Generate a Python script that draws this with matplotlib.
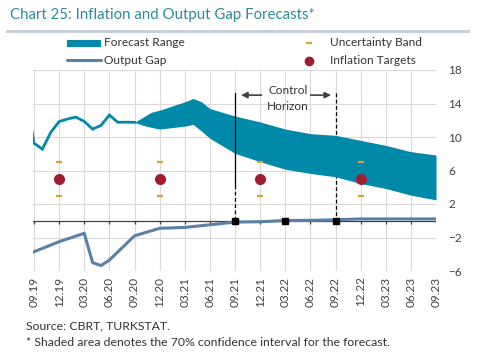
import numpy as np
import matplotlib
matplotlib.use("Agg")
import matplotlib.pyplot as plt

plt.rcParams["font.family"] = ["Lato", "DejaVu Sans"]

# ── DATA ──────────────────────────────────────────────────────────────────────
# x positions are months counted from 09.19 (= 0)
tick_labels = ["09.19", "12.19", "03.20", "06.20", "09.20", "12.20", "03.21",
               "06.21", "09.21", "12.21", "03.22", "06.22", "09.22", "12.22",
               "03.23", "06.23", "09.23"]

infl_months = [-1, 0, 1, 2, 3, 4, 5, 6, 7, 8, 9, 10, 11, 12]
infl_values = [15.01, 9.26, 8.55, 10.56, 11.84, 12.15, 12.37, 11.86, 10.94,
               11.39, 12.62, 11.76, 11.77, 11.75]

band_months = [12, 13, 14, 15, 18, 19, 20, 21, 24, 27, 30, 33, 36, 39, 42, 45, 48]
band_upper = [11.75, 12.35, 12.95, 13.2, 14.2, 14.6, 14.2, 13.4, 12.5, 11.8,
              10.95, 10.4, 10.2, 9.6, 9.0, 8.25, 7.85]
band_lower = [11.75, 11.4, 11.15, 10.95, 11.3, 11.5, 10.7, 9.85, 8.05, 7.05,
              6.15, 5.65, 5.25, 4.45, 3.85, 3.05, 2.5]

gap_months = [0, 3, 6, 7, 8, 9, 12, 15, 18, 21, 24, 27, 30, 33, 36, 39, 42, 45, 48]
gap_values = [-3.7, -2.5, -1.5, -5.0, -5.35, -4.7, -1.8, -0.9, -0.8, -0.48,
              -0.16, -0.12, 0.03, 0.05, 0.12, 0.22, 0.22, 0.22, 0.22]

target_months = [3, 15, 27, 39]
target_values = [5, 5, 5, 5]
unc_upper = [7, 7, 7, 7]
unc_lower = [3, 3, 3, 3]

horizon_marks = [24, 30, 36]

TEAL = "#0089A8"
GAP = "#5B80A8"
RED = "#9E1F32"
ORANGE = "#D9A040"
GRID = "#D9D9D9"
TXT = "#333333"

# ── FIGURE ────────────────────────────────────────────────────────────────────
fig = plt.figure(figsize=(5.04, 3.62), dpi=100)
ax = fig.add_axes([33 / 504, 1 - 271 / 362, 403 / 504, 201 / 362])

ax.set_xlim(-0.12, 48)
ax.set_ylim(-6, 18)

quarters = np.arange(0, 49, 3)
for q in quarters:
    ax.axvline(q, color=GRID, lw=0.8, zorder=0)
for yv in [18, 14, 10, 6, 2, -2, -6]:
    ax.axhline(yv, color=GRID, lw=0.8, zorder=0)

# zero axis with small ticks
ax.axhline(0, color="#404040", lw=0.9, zorder=3)
ax.vlines(quarters, -0.4, 0, color="#404040", lw=0.9, zorder=3)

# forecast band and actual inflation
ax.fill_between(band_months, band_lower, band_upper, color=TEAL, lw=0, zorder=2)
ax.plot(infl_months, infl_values, color=TEAL, lw=2.0, zorder=4,
        solid_joinstyle="miter")

# output gap
ax.plot(gap_months, gap_values, color=GAP, lw=2.2, zorder=4)
ax.plot(horizon_marks, [0] * len(horizon_marks), ls="none", marker="s",
        ms=4.5, color="black", zorder=6)

# control horizon lines
ax.plot([24, 24], [15.25, 4.3], color="black", lw=0.9, zorder=5)
ax.plot([24, 24], [4.3, 0], color="black", lw=0.9, ls=(0, (3, 2)), zorder=5)
ax.plot([36, 36], [15.25, 0], color="black", lw=0.9, ls=(0, (3, 2)), zorder=1)

ax.annotate("", xy=(24.4, 15.0), xytext=(27.5, 15.0),
            arrowprops=dict(arrowstyle="-|>", color="#404040", lw=1.2,
                            mutation_scale=9), zorder=6)
ax.annotate("", xy=(35.8, 15.0), xytext=(32.7, 15.0),
            arrowprops=dict(arrowstyle="-|>", color="#404040", lw=1.2,
                            mutation_scale=9), zorder=6)
ax.text(30.3, 15.55, "Control", ha="center", va="center", fontsize=8.5, color=TXT)
ax.text(30.3, 13.7, "Horizon", ha="center", va="center", fontsize=8.5, color=TXT)

# targets and uncertainty band
ax.plot(target_months, unc_upper, ls="none", marker="_", ms=5, mew=1.6,
        color=ORANGE, zorder=5)
ax.plot(target_months, unc_lower, ls="none", marker="_", ms=5, mew=1.6,
        color=ORANGE, zorder=5)
ax.plot(target_months, target_values, ls="none", marker="o", ms=7,
        color=RED, zorder=5)

# axes styling
for s in ax.spines.values():
    s.set_visible(False)
ax.set_xticks(quarters)
ax.set_xticklabels(tick_labels, rotation=90, fontsize=8.5, color="#404040")
ax.tick_params(axis="x", length=0, pad=4)
ax.set_yticks([18, 14, 10, 6, 2, -2, -6])
ax.yaxis.tick_right()
ax.tick_params(axis="y", length=0, pad=9, labelsize=8.5, labelcolor="#404040")

# ── TITLE, LEGEND, NOTES (pixel overlay) ──────────────────────────────────────
ov = fig.add_axes([0, 0, 1, 1], facecolor="none")
ov.set_xlim(0, 504)
ov.set_ylim(362, 0)
ov.axis("off")

ov.text(10, 15, "Chart 25: Inflation and Output Gap Forecasts*", fontsize=10.8,
        color="#2B8C9C", va="center", ha="left")
ov.add_patch(plt.Rectangle((6, 29.5), 464, 3.5, color="#C8D0DA", lw=0))

ov.add_patch(plt.Rectangle((67, 40), 34, 6.5, color=TEAL, lw=0))
ov.text(104, 43, "Forecast Range", fontsize=8.6, color=TXT, va="center")
ov.plot([67, 101], [60, 60], color=GAP, lw=2.2, solid_capstyle="round")
ov.text(104, 60, "Output Gap", fontsize=8.6, color=TXT, va="center")

ov.plot([309], [43], ls="none", marker="_", ms=5, mew=1.6, color=ORANGE)
ov.text(330, 43, "Uncertainty Band", fontsize=8.6, color=TXT, va="center")
ov.plot([309], [61], ls="none", marker="o", ms=6, color=RED)
ov.text(330, 60, "Inflation Targets", fontsize=8.6, color=TXT, va="center")

ov.text(26, 326, "Source: CBRT, TURKSTAT.", fontsize=8.8, color=TXT, va="center")
ov.text(26, 343, "* Shaded area denotes the 70% confidence interval for the forecast.",
        fontsize=8.8, color=TXT, va="center")

fig.savefig("out.png", dpi=100)
